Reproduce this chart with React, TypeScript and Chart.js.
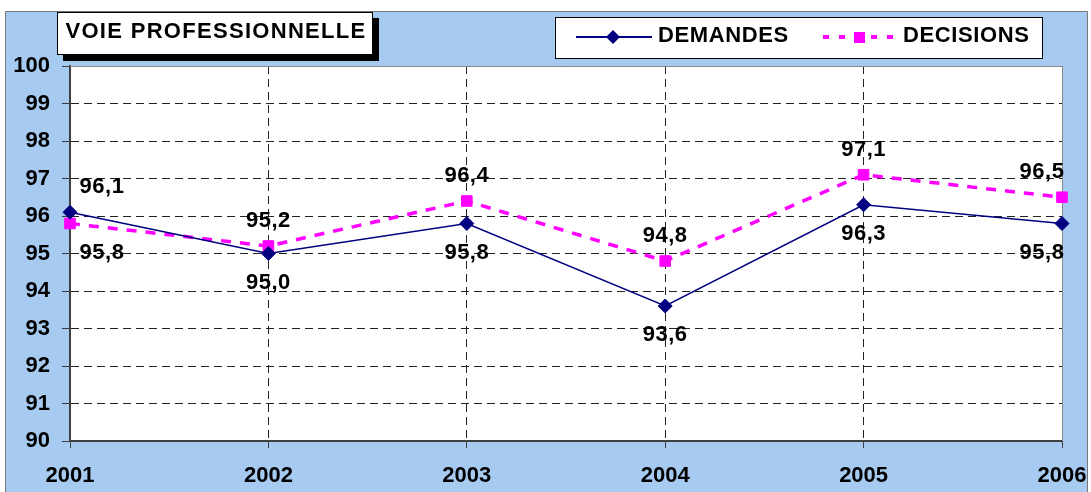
import React, { useEffect, useRef } from "react";
import { Chart, registerables } from "chart.js";

Chart.register(...registerables);

const years = ["2001", "2002", "2003", "2004", "2005", "2006"];
const demandes = [96.1, 95.0, 95.8, 93.6, 96.3, 95.8];
const decisions = [95.8, 95.2, 96.4, 94.8, 97.1, 96.5];
const demandesLabelSide = ["above", "below", "below", "below", "below", "below"];
const decisionsLabelSide = ["below", "above", "above", "above", "above", "above"];
const chartTitle = "VOIE PROFESSIONNELLE";
const seriesNames = ["DEMANDES", "DECISIONS"];

const FONT = "'Liberation Sans', Arial, sans-serif";
const BG = "#a6caf0";
const NAVY = "#000080";
const MAGENTA = "#ff00ff";

const fmt = (v: number) => v.toFixed(1).replace(".", ",");

const framePlugin = {
  id: "frame",
  beforeDraw(chart: any) {
    const { ctx, chartArea } = chart;
    ctx.save();
    ctx.fillStyle = "#ffffff";
    ctx.fillRect(0, 0, chart.width, chart.height);
    ctx.fillStyle = BG;
    ctx.fillRect(5, 11, 1082, 481);
    ctx.strokeStyle = "#777";
    ctx.lineWidth = 1;
    ctx.beginPath();
    ctx.moveTo(5.5, 492);
    ctx.lineTo(5.5, 11.5);
    ctx.lineTo(1087.5, 11.5);
    ctx.lineTo(1087.5, 492);
    ctx.stroke();
    ctx.fillStyle = "#ffffff";
    ctx.fillRect(chartArea.left, chartArea.top, chartArea.right - chartArea.left, chartArea.bottom - chartArea.top);
    ctx.restore();
  },
  beforeDatasetsDraw(chart: any) {
    const { ctx, chartArea } = chart;
    ctx.save();
    ctx.strokeStyle = "#888";
    ctx.lineWidth = 1;
    ctx.beginPath();
    ctx.moveTo(chartArea.left, chartArea.top + 0.5);
    ctx.lineTo(chartArea.right + 0.5, chartArea.top + 0.5);
    ctx.lineTo(chartArea.right + 0.5, chartArea.bottom);
    ctx.stroke();
    ctx.restore();
  },
  afterDraw(chart: any) {
    const { ctx } = chart;
    ctx.save();
    // Title box with shadow
    ctx.fillStyle = "#000";
    ctx.fillRect(63, 18, 316, 43);
    ctx.fillStyle = "#fff";
    ctx.fillRect(57, 12, 316, 43);
    ctx.strokeStyle = "#000";
    ctx.lineWidth = 1;
    ctx.strokeRect(57.5, 12.5, 315, 42);
    ctx.fillStyle = "#000";
    ctx.font = `bold 22px ${FONT}`;
    (ctx as any).letterSpacing = "1.3px";
    ctx.textAlign = "center";
    ctx.textBaseline = "middle";
    ctx.fillText(chartTitle, 216, 32);

    // Legend box
    ctx.fillStyle = "#fff";
    ctx.fillRect(555, 17, 488, 42);
    ctx.strokeStyle = "#000";
    ctx.strokeRect(555.5, 17.5, 487, 41);
    // Demandes sample
    ctx.strokeStyle = NAVY;
    ctx.lineWidth = 2;
    ctx.beginPath();
    ctx.moveTo(576, 37);
    ctx.lineTo(652, 37);
    ctx.stroke();
    ctx.fillStyle = NAVY;
    ctx.beginPath();
    ctx.moveTo(606, 37);
    ctx.lineTo(613, 30);
    ctx.lineTo(620, 37);
    ctx.lineTo(613, 44);
    ctx.closePath();
    ctx.fill();
    ctx.fillStyle = "#000";
    ctx.font = `bold 22px ${FONT}`;
    (ctx as any).letterSpacing = "0.6px";
    ctx.textAlign = "left";
    ctx.fillText(seriesNames[0], 658, 36);
    // Decisions sample
    ctx.strokeStyle = MAGENTA;
    ctx.lineWidth = 4;
    ctx.setLineDash([6, 10]);
    ctx.beginPath();
    ctx.moveTo(823, 37);
    ctx.lineTo(896, 37);
    ctx.stroke();
    ctx.setLineDash([]);
    ctx.fillStyle = MAGENTA;
    ctx.fillRect(854, 32, 11, 11);
    ctx.fillStyle = "#000";
    ctx.fillText(seriesNames[1], 903, 36);
    ctx.restore();
  },
  afterDatasetsDraw(chart: any) {
    const { ctx } = chart;
    const sides = [demandesLabelSide, decisionsLabelSide];
    ctx.save();
    ctx.font = `bold 22px ${FONT}`;
    (ctx as any).letterSpacing = "0.5px";
    ctx.fillStyle = "#000";
    ctx.textAlign = "center";
    ctx.textBaseline = "middle";
    chart.data.datasets.forEach((ds: any, di: number) => {
      const meta = chart.getDatasetMeta(di);
      meta.data.forEach((pt: any, i: number) => {
        const side = sides[di][i];
        let dx = 0;
        if (i === 0) dx = 32;
        if (i === meta.data.length - 1) dx = -20;
        const dy = side === "above" ? -25 : 29;
        ctx.fillText(fmt(ds.data[i]), pt.x + dx, pt.y + dy);
      });
    });
    ctx.restore();
  },
};

export default function App() {
  const ref = useRef<HTMLCanvasElement | null>(null);
  useEffect(() => {
    if (!ref.current) return;
    const tickFont = { family: FONT, size: 22, weight: "bold" as const };
    const chart = new Chart(ref.current, {
      type: "line",
      data: {
        labels: years,
        datasets: [
          {
            label: seriesNames[0],
            data: demandes,
            borderColor: NAVY,
            backgroundColor: NAVY,
            borderWidth: 1.5,
            pointStyle: "rectRot",
            pointRadius: 7,
            pointBorderWidth: 1,
            pointBackgroundColor: NAVY,
            pointBorderColor: NAVY,
            tension: 0,
            clip: false as any,
          },
          {
            label: seriesNames[1],
            data: decisions,
            borderColor: MAGENTA,
            backgroundColor: MAGENTA,
            borderWidth: 3.5,
            borderDash: [10, 9],
            pointStyle: "rect",
            pointRadius: 7.5,
            pointBorderWidth: 1,
            pointBackgroundColor: MAGENTA,
            pointBorderColor: MAGENTA,
            tension: 0,
            clip: false as any,
          },
        ],
      },
      options: {
        responsive: false,
        maintainAspectRatio: false,
        animation: false,
        devicePixelRatio: 1,
        layout: { padding: { left: 0, top: 66, right: 29, bottom: 0 } },
        plugins: {
          legend: { display: false },
          title: { display: false },
          tooltip: { enabled: false },
        },
        scales: {
          x: {
            type: "category",
            offset: false,
            afterFit: (s: any) => {
              s.height = 51;
              s.paddingLeft = 0;
              s.paddingRight = 0;
            },
            grid: {
              color: "#222",
              lineWidth: 1,
              tickLength: 7,
              tickColor: "#404040",
              tickWidth: 1,
            },
            border: { display: true, color: "#404040", width: 2, dash: [8, 5] },
            ticks: { color: "#000", font: tickFont, padding: 15, maxRotation: 0, autoSkip: false },
          },
          y: {
            min: 90,
            max: 100,
            afterFit: (s: any) => {
              s.width = 70;
              s.paddingTop = 0;
              s.paddingBottom = 0;
            },
            grid: {
              color: "#222",
              lineWidth: 1,
              tickLength: 8,
              tickColor: "#404040",
              tickWidth: 1,
            },
            border: { display: true, color: "#404040", width: 2, dash: [8, 5] },
            ticks: { color: "#000", font: tickFont, padding: 12, stepSize: 1 },
          },
        },
      },
      plugins: [framePlugin],
    });
    return () => chart.destroy();
  }, []);
  return (
    <div style={{ position: "absolute", left: 0, top: 0, width: 1091, height: 492 }}>
      <canvas ref={ref} width={1091} height={492} style={{ display: "block" }} />
    </div>
  );
}
